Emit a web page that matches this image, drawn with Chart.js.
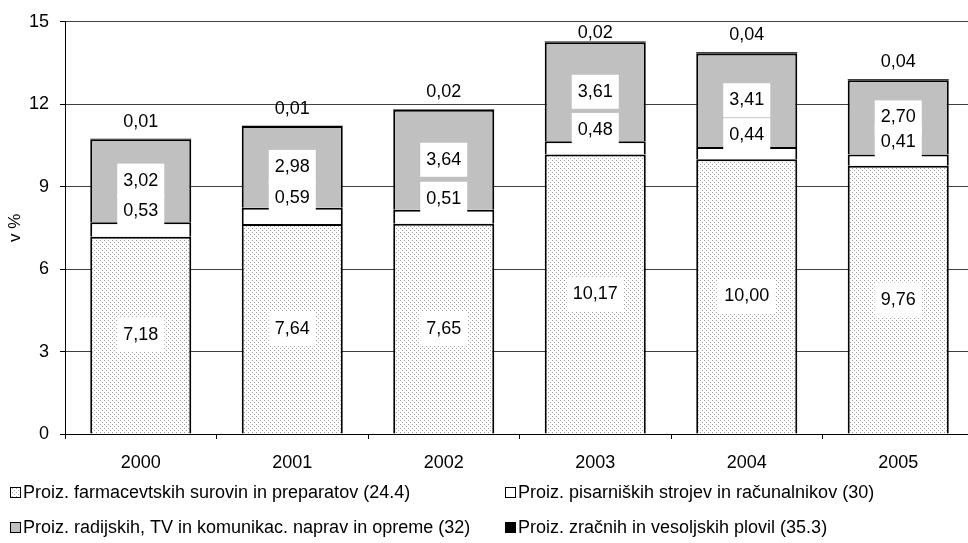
<!DOCTYPE html>
<html>
<head>
<meta charset="utf-8">
<title>Delež predelovalnih dejavnosti</title>
<script src="https://cdn.jsdelivr.net/npm/chart.js@4/dist/chart.umd.min.js"></script>
<style>
  html, body { margin: 0; padding: 0; background: #fff; overflow: hidden; }
</style>
</head>
<body>
<canvas id="chart" width="974" height="543"></canvas>
<script>
// data
var years = ["2000", "2001", "2002", "2003", "2004", "2005"];
var farmacevtski = [7.18, 7.64, 7.65, 10.17, 10.00, 9.76];
var pisarniski = [0.53, 0.59, 0.51, 0.48, 0.44, 0.41];
var radijski = [3.02, 2.98, 3.64, 3.61, 3.41, 2.70];
var zracni = [0.01, 0.01, 0.02, 0.02, 0.04, 0.04];
var seriesNames = [
  "Proiz. farmacevtskih surovin in preparatov (24.4)",
  "Proiz. pisarniških strojev in računalnikov (30)",
  "Proiz. radijskih, TV in komunikac. naprav in opreme (32)",
  "Proiz. zračnih in vesoljskih plovil (35.3)"
];
var yMin = 0, yMax = 15, yStep = 3;

var FONT = '"Liberation Sans", Arial, sans-serif';

function dotPattern() {
  var c = document.createElement("canvas");
  c.width = 4; c.height = 4;
  var g = c.getContext("2d");
  g.fillStyle = "#fff";
  g.fillRect(0, 0, 4, 4);
  g.fillStyle = "#a0a0a0";
  g.fillRect(0, 0, 1, 1);
  g.fillRect(2, 2, 1, 1);
  return document.getElementById("chart").getContext("2d").createPattern(c, "repeat");
}
var dots = dotPattern();

// value labels in white boxes
var valueLabels = {
  id: "valueLabels",
  afterDatasetsDraw: function (chart) {
    var ctx = chart.ctx;
    var area = chart.chartArea;
    var items = [];
    chart.data.datasets.forEach(function (ds, di) {
      chart.getDatasetMeta(di).data.forEach(function (bar, i) {
        var y;
        if (di === 3) {
          y = Math.max(bar.y - 17, area.top + 11);
        } else {
          y = (bar.y + bar.base) / 2;
          if (di === 1) y -= 18;
        }
        items.push({ x: bar.x, y: y, text: ds.data[i].toFixed(2).replace(".", ","), box: di < 3 });
      });
    });
    ctx.save();
    ctx.font = "18px " + FONT;
    ctx.textAlign = "center";
    ctx.textBaseline = "middle";
    ctx.fillStyle = "#fff";
    items.forEach(function (it) {
      if (!it.box) return;
      var w = ctx.measureText(it.text).width + 12;
      ctx.fillRect(it.x - w / 2, it.y - 17, w, 34);
    });
    ctx.fillStyle = "#000";
    items.forEach(function (it) {
      ctx.fillText(it.text, it.x, it.y);
    });
    ctx.restore();
  }
};

// two-column legend under the axis
var gridLegend = {
  id: "gridLegend",
  afterDraw: function (chart) {
    var ctx = chart.ctx;
    var cols = [10, 505];
    var rows = [492, 527];
    ctx.save();
    ctx.font = "18px " + FONT;
    ctx.textBaseline = "middle";
    ctx.textAlign = "left";
    chart.data.datasets.forEach(function (ds, i) {
      var x = cols[i % 2], y = rows[Math.floor(i / 2)];
      ctx.fillStyle = ds.backgroundColor;
      ctx.fillRect(x, y - 5, 11, 11);
      ctx.strokeStyle = "#000";
      ctx.lineWidth = 1;
      ctx.strokeRect(x + 0.5, y - 4.5, 10, 10);
      ctx.fillStyle = "#000";
      ctx.fillText(ds.label, x + 13, y + 1);
    });
    ctx.restore();
  }
};

var ctx = document.getElementById("chart").getContext("2d");
new Chart(ctx, {
  type: "bar",
  data: {
    labels: years,
    datasets: [
      { label: seriesNames[0], data: farmacevtski, backgroundColor: dots, borderColor: "#000", borderWidth: 2 },
      { label: seriesNames[1], data: pisarniski, backgroundColor: "#ffffff", borderColor: "#000", borderWidth: 2 },
      { label: seriesNames[2], data: radijski, backgroundColor: "#c0c0c0", borderColor: "#000", borderWidth: 2 },
      { label: seriesNames[3], data: zracni, backgroundColor: "#000000", borderColor: "#000", borderWidth: 0 }
    ]
  },
  options: {
    responsive: false,
    animation: false,
    devicePixelRatio: 1,
    layout: { padding: { top: 18, right: 0, bottom: 69, left: 0 } },
    datasets: { bar: { categoryPercentage: 1, barPercentage: 0.667 } },
    plugins: { legend: { display: false }, tooltip: { enabled: false } },
    scales: {
      x: {
        stacked: true,
        afterFit: function (s) { s.height = 40; },
        grid: { offset: true, drawOnChartArea: false, tickLength: 5, color: "#000" },
        border: { color: "#000", width: 1 },
        ticks: { color: "#000", padding: 13, font: { family: FONT, size: 18 } }
      },
      y: {
        stacked: true,
        min: yMin,
        max: yMax,
        afterFit: function (s) { s.width = 65; },
        grid: { color: "#404040", lineWidth: 1, tickLength: 5, tickColor: "#000" },
        border: { color: "#000", width: 1 },
        ticks: { stepSize: yStep, color: "#000", padding: 11, font: { family: FONT, size: 18 } },
        title: { display: true, text: "v %", color: "#000", padding: { top: 5, bottom: 0 }, font: { family: FONT, size: 17 } }
      }
    }
  },
  plugins: [valueLabels, gridLegend]
});
</script>
</body>
</html>
